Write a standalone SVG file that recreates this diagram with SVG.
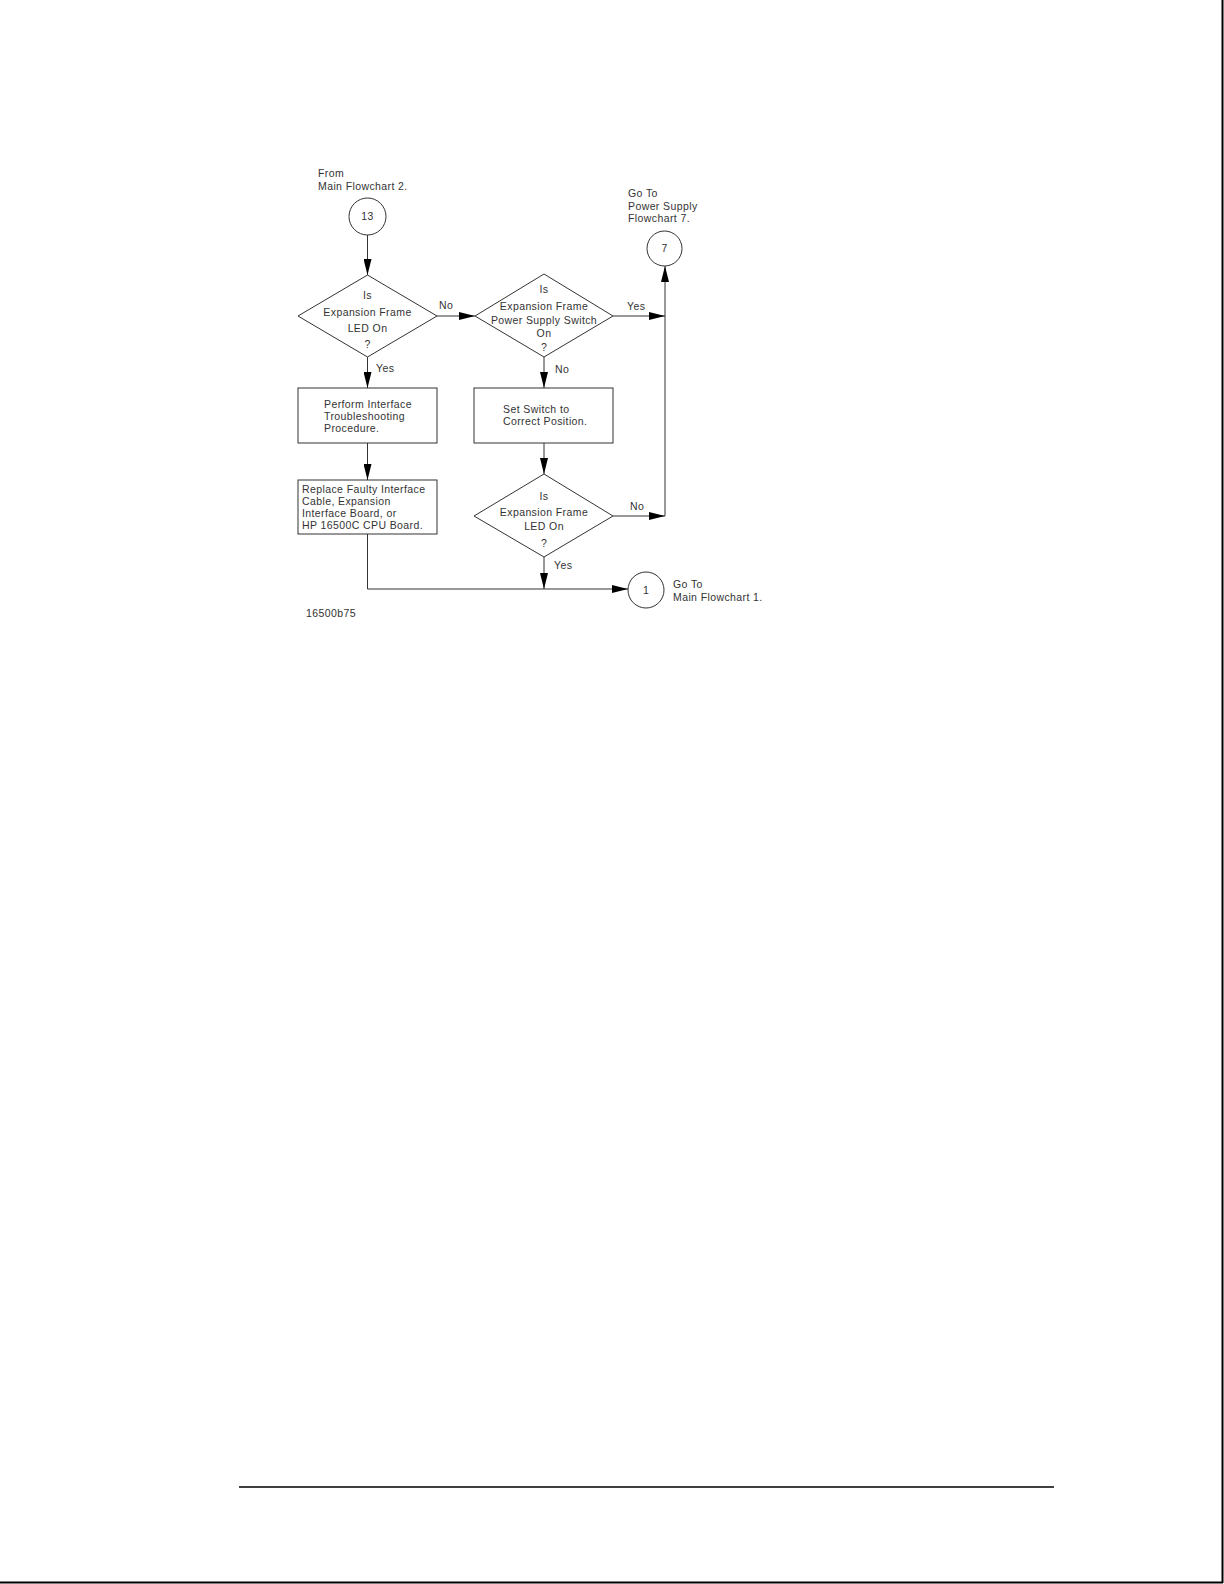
<svg xmlns="http://www.w3.org/2000/svg" width="1224" height="1584" viewBox="0 0 1224 1584">
<defs>
<marker id="arr" markerWidth="16" markerHeight="8" refX="16" refY="4" orient="auto" markerUnits="userSpaceOnUse">
<path d="M0,0 L16,4 L0,8 Z" fill="#000"/>
</marker>
<style>
.t{font-family:"Liberation Sans",Arial,sans-serif;font-size:10.5px;fill:#333;letter-spacing:0.4px}
.m{text-anchor:middle}
.s{fill:none;stroke:#333;stroke-width:1}
.c{fill:none;stroke:#333;stroke-width:1}
</style>
</defs>
<rect x="0" y="0" width="1224" height="1584" fill="#fff"/>
<g id="page">
<line x1="1222.5" y1="0" x2="1222.5" y2="1583" stroke="#000" stroke-width="2"/>
<line x1="0" y1="1582.5" x2="1223" y2="1582.5" stroke="#000" stroke-width="2"/>
<line x1="239" y1="1487" x2="1054" y2="1487" stroke="#000" stroke-width="1.5"/>
</g>
<g id="connectors">
<line class="c" x1="367.5" y1="235" x2="367.5" y2="275" marker-end="url(#arr)"/>
<line class="c" x1="437" y1="316" x2="475" y2="316" marker-end="url(#arr)"/>
<line class="c" x1="613" y1="316" x2="665" y2="316" marker-end="url(#arr)"/>
<line class="c" x1="665" y1="516" x2="665" y2="266" marker-end="url(#arr)"/>
<line class="c" x1="367.5" y1="357" x2="367.5" y2="388" marker-end="url(#arr)"/>
<line class="c" x1="367.5" y1="443" x2="367.5" y2="480" marker-end="url(#arr)"/>
<line class="c" x1="544" y1="357" x2="544" y2="388" marker-end="url(#arr)"/>
<line class="c" x1="544" y1="443" x2="544" y2="474" marker-end="url(#arr)"/>
<line class="c" x1="613" y1="516" x2="665" y2="516" marker-end="url(#arr)"/>
<line class="c" x1="544" y1="557" x2="544" y2="589" marker-end="url(#arr)"/>
<polyline class="c" points="367.5,534 367.5,589 628,589" marker-end="url(#arr)"/>
<text class="t" x="439" y="309">No</text>
<text class="t" x="376" y="372">Yes</text>
<text class="t" x="627" y="310">Yes</text>
<text class="t" x="555" y="373">No</text>
<text class="t" x="630" y="510">No</text>
<text class="t" x="554" y="569">Yes</text>
</g>
<g id="from13">
<text class="t" x="318" y="177">From</text>
<text class="t" x="318" y="190">Main Flowchart 2.</text>
<circle class="s" cx="367.5" cy="216.5" r="18.5"/>
<text class="t m" x="367.5" y="220">13</text>
</g>
<g id="goto7">
<text class="t" x="628" y="197">Go To</text>
<text class="t" x="628" y="209.5">Power Supply</text>
<text class="t" x="628" y="222">Flowchart 7.</text>
<circle class="s" cx="664.5" cy="248.5" r="17.5"/>
<text class="t m" x="664.5" y="252">7</text>
</g>
<g id="dec1">
<polygon class="s" points="367.5,275 437,316 367.5,357 298,316"/>
<text class="t m" x="367.5" y="299">Is</text>
<text class="t m" x="367.5" y="316">Expansion Frame</text>
<text class="t m" x="367.5" y="332">LED On</text>
<text class="t m" x="367.5" y="348">?</text>
</g>
<g id="dec2">
<polygon class="s" points="544,274 613,316 544,357 475,316"/>
<text class="t m" x="544" y="293">Is</text>
<text class="t m" x="544" y="310">Expansion Frame</text>
<text class="t m" x="544" y="324">Power Supply Switch</text>
<text class="t m" x="544" y="337">On</text>
<text class="t m" x="544" y="351">?</text>
</g>
<g id="box1">
<rect class="s" x="298" y="388" width="139" height="55"/>
<text class="t" x="324" y="408">Perform Interface</text>
<text class="t" x="324" y="420">Troubleshooting</text>
<text class="t" x="324" y="432">Procedure.</text>
</g>
<g id="box2">
<rect class="s" x="298" y="480" width="139" height="54"/>
<text class="t" x="302" y="493">Replace Faulty Interface</text>
<text class="t" x="302" y="505">Cable, Expansion</text>
<text class="t" x="302" y="517">Interface Board, or</text>
<text class="t" x="302" y="529">HP 16500C CPU Board.</text>
</g>
<g id="box3">
<rect class="s" x="474" y="388" width="139" height="55"/>
<text class="t" x="503" y="413">Set Switch to</text>
<text class="t" x="503" y="425">Correct Position.</text>
</g>
<g id="dec3">
<polygon class="s" points="544,474 613,516 544,557 474,516"/>
<text class="t m" x="544" y="500">Is</text>
<text class="t m" x="544" y="516">Expansion Frame</text>
<text class="t m" x="544" y="530">LED On</text>
<text class="t m" x="544" y="547">?</text>
</g>
<g id="goto1">
<circle class="s" cx="646" cy="590" r="18"/>
<text class="t m" x="646" y="594">1</text>
<text class="t" x="673" y="588">Go To</text>
<text class="t" x="673" y="601">Main Flowchart 1.</text>
</g>
<g id="figid">
<text class="t" x="306" y="617">16500b75</text>
</g>
</svg>
